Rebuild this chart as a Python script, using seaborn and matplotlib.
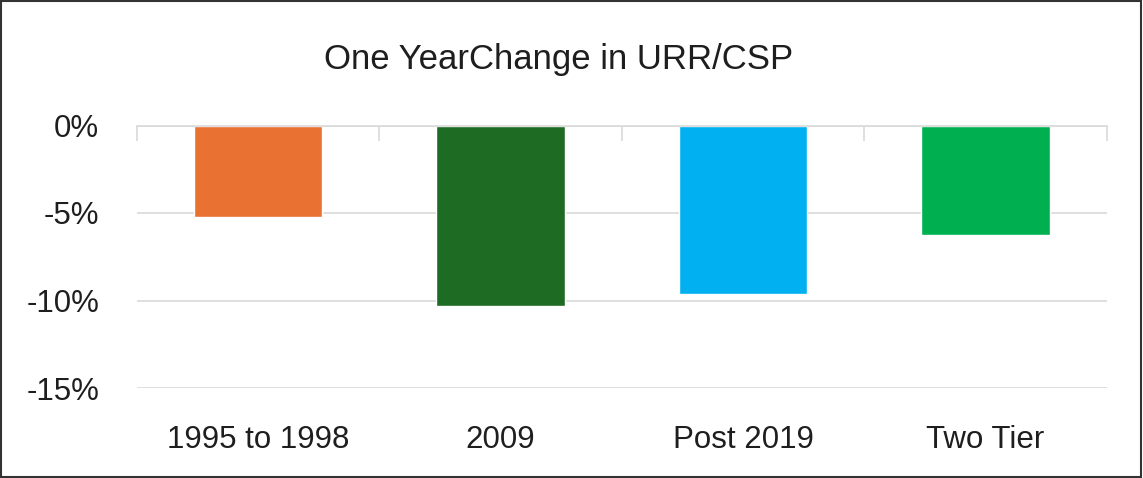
import matplotlib
matplotlib.use("Agg")
import matplotlib.pyplot as plt
from matplotlib.patches import Rectangle
from matplotlib.ticker import FixedLocator, FuncFormatter
import seaborn as sns
import pandas as pd

# Chart data
categories = ["1995 to 1998", "2009", "Post 2019", "Two Tier"]
change_pct = [-5.2, -10.3, -9.6, -6.25]
bar_colors = ["#E97132", "#1E6B24", "#00B0F0", "#00B050"]
y_ticks = [0, -5, -10, -15]
title = "One YearChange in URR/CSP"

sns.set_theme(style="white")
plt.rcParams["font.family"] = ["Liberation Sans", "DejaVu Sans"]

W, H, DPI = 1143, 478, 100
fig = plt.figure(figsize=(W / DPI, H / DPI), dpi=DPI)
ax = fig.add_axes([136.7 / W, 1 - 388 / H, (1106.7 - 136.7) / W, (388 - 125.5) / H])

df = pd.DataFrame({"category": categories, "change": change_pct})
sns.barplot(data=df, x="category", y="change", hue="category",
            palette=bar_colors, width=0.53, legend=False, ax=ax,
            saturation=1)

grid_color = "#D9D9D9"
text_color = "#1E1E1E"
ax.set_ylim(-15, 0)
ax.set_xlim(-0.5, len(categories) - 0.5)
ax.yaxis.set_major_locator(FixedLocator(y_ticks))
ax.yaxis.set_major_formatter(FuncFormatter(lambda v, _: f"{v:.0f}%"))
ax.grid(axis="y", color=grid_color, linewidth=1.2)
ax.set_axisbelow(True)
for side in ["left", "right", "bottom"]:
    ax.spines[side].set_visible(False)
ax.spines["top"].set_color(grid_color)
ax.spines["top"].set_linewidth(1.2)

# category divider ticks hang from the zero line
ax.xaxis.set_minor_locator(FixedLocator([i - 0.5 for i in range(len(categories) + 1)]))
ax.tick_params(axis="x", which="minor", top=True, bottom=False, direction="in",
               length=11, width=1.2, color=grid_color)
ax.tick_params(axis="x", which="major", bottom=False, top=False, length=0,
               pad=27, labelsize=22.5, labelcolor=text_color)
ax.tick_params(axis="y", length=0, pad=27, labelsize=22.5, labelcolor=text_color)
ax.set_xlabel("")
ax.set_ylabel("")

fig.text(559 / W, 1 - 69 / H, title, ha="center", va="baseline",
         fontsize=25, color=text_color)

# outer frame
fig.patches.append(Rectangle((0.001, 0.002), 0.997, 0.995, transform=fig.transFigure,
                             fill=False, edgecolor="#333333", linewidth=1.5))

fig.savefig("out.png", dpi=DPI)
